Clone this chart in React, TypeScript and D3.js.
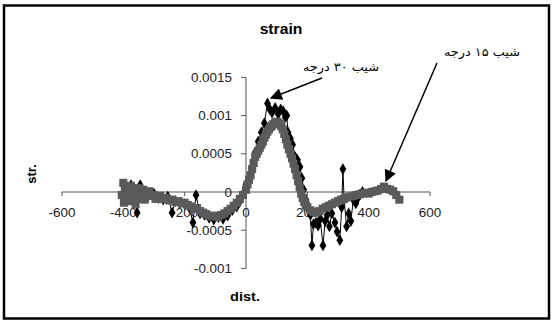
import React from "react";
import * as d3 from "d3";

// Series 1 (gray squares)
const grayDist = [-405,-400,-398,-395,-390,-385,-380,-375,-372,-365,-360,-358,-350,-345,-342,-335,-330,-328,-320,-315,-310,-300,-295,-290,-280,-270,-260,-250,-240,-230,-220,-210,-200,-190,-180,-170,-160,-150,-140,-130,-120,-110,-100,-90,-80,-70,-60,-50,-40,-30,-20,-10,0,5,10,15,20,25,30,35,40,45,50,55,60,65,70,75,80,85,90,95,100,105,110,115,120,125,130,135,140,145,150,155,160,165,170,175,180,185,190,195,200,210,220,230,240,250,260,270,280,290,300,310,320,330,340,350,360,370,380,390,400,410,420,430,440,450,460,470,480,490,500];
const grayVal = [-0.00004,0.00012,-0.00014,0.00002,-0.00010,0.00006,-0.00006,0.00008,-0.00012,0.00002,-0.00016,-0.00004,0.00005,-0.00009,-0.00001,0.00003,-0.00010,-0.00002,-0.00004,0.00001,-0.00005,-0.00004,-0.00009,-0.00006,-0.00005,-0.00009,-0.00008,-0.00011,-0.00010,-0.00013,-0.00012,-0.00015,-0.00014,-0.00017,-0.00019,-0.00022,-0.00021,-0.00025,-0.00027,-0.00029,-0.00031,-0.00032,-0.00031,-0.00033,-0.00030,-0.00028,-0.00025,-0.00022,-0.00018,-0.00014,-0.00009,-0.00004,0.00003,0.00010,0.00016,0.00022,0.00030,0.00038,0.00046,0.00050,0.00054,0.00058,0.00062,0.00066,0.00071,0.00075,0.00079,0.00082,0.00085,0.00087,0.00089,0.00091,0.00092,0.00091,0.00089,0.00086,0.00082,0.00076,0.00069,0.00062,0.00056,0.00050,0.00044,0.00037,0.00030,0.00022,0.00014,0.00006,-0.00002,-0.00008,-0.00013,-0.00017,-0.00020,-0.00024,-0.00026,-0.00027,-0.00025,-0.00022,-0.00020,-0.00018,-0.00016,-0.00014,-0.00012,-0.00010,-0.00009,-0.00007,-0.00006,-0.00005,-0.00004,-0.00003,-0.00002,-0.00001,-0.00002,0.00000,0.00001,0.00002,0.00004,0.00007,0.00004,0.00003,0.00001,-0.00004,-0.00010];

// Series 2 (black diamonds)
const blackDist = [-400,-390,-375,-365,-355,-345,-335,-320,-300,-285,-270,-255,-241,-230,-215,-200,-185,-173,-163,-150,-135,-120,-105,-90,-75,-60,-45,-30,-20,-10,0,10,20,30,40,50,60,70,78,85,95,105,113,121,128,133,137,145,152,160,168,176,182,188,195,200,210,215,220,228,235,242,251,258,265,272,280,290,297,306,312,316,320,328,335,342,350,358,365,372,380];
const blackVal = [-0.00005,0.00002,0.00009,-0.00008,-0.00027,0.00009,-0.00004,-0.00006,-0.00002,-0.00008,-0.00010,-0.00006,-0.00027,-0.00012,-0.00014,-0.00016,-0.00020,-0.00040,-0.00004,-0.00028,-0.00030,-0.00034,-0.00036,-0.00033,-0.00035,-0.00031,-0.00024,-0.00019,-0.00012,-0.00003,0.00010,0.00016,0.00030,0.00052,0.00066,0.00078,0.00090,0.00116,0.00108,0.00104,0.00110,0.00102,0.00108,0.00106,0.00098,0.00100,0.00078,0.00070,0.00062,0.00046,0.00042,0.00033,0.00018,0.00003,-0.00010,-0.00020,-0.00030,-0.00070,-0.00042,-0.00040,-0.00044,-0.00035,-0.00070,-0.00038,-0.00030,-0.00045,-0.00028,-0.00040,-0.00052,-0.00063,-0.00020,0.00030,-0.00010,-0.00045,-0.00028,-0.00038,-0.00010,-0.00015,-0.00008,-0.00003,0.00000];

const xTicks = [-600,-400,-200,0,200,400,600];
const yTicks = [-0.001,-0.0005,0,0.0005,0.001,0.0015];
const yTickLabels = ["-0.001","-0.0005","0","0.0005","0.001","0.0015"];

const title = "strain";
const xTitle = "dist.";
const yTitle = "str.";
const note30 = "شیب ۳۰ درجه";
const note15 = "شیب ۱۵ درجه";

const SX = 1.12;

export default function App() {
  const x = d3.scaleLinear().domain([-600, 600]).range([62, 430]);
  const y = d3.scaleLinear().domain([-0.001, 0.0015]).range([268.4, 77.4]);
  const x0 = x(0);
  const y0 = y(0);
  const font = "'Liberation Sans', Arial, sans-serif";
  const arFont = "'DejaVu Sans', sans-serif";

  const gray = grayDist.map((d, i) => [d, grayVal[i]] as [number, number]);
  const black = blackDist.map((d, i) => [d, blackVal[i]] as [number, number]);
  const line = d3.line<[number, number]>().x((d) => x(d[0])).y((d) => y(d[1]));
  const sq = d3.symbol().type(d3.symbolSquare).size(66)()!;
  const dm = d3.symbol().type(d3.symbolDiamond).size(40)()!;

  const T = (tx: number, ty: number, extra = "") => `translate(${tx},${ty}) scale(${SX},1)${extra}`;

  return (
    <svg width={553} height={322} style={{ position: "absolute", left: 0, top: 0, background: "#fff" }}>
      <defs>
        <marker id="ah" viewBox="0 0 10 10" refX="9" refY="5" markerWidth="15" markerHeight="12" orient="auto" markerUnits="userSpaceOnUse">
          <path d="M0,0 L10,5 L0,10 z" fill="#000" />
        </marker>
      </defs>
      <rect x={0} y={0} width={553} height={322} fill="#fff" />
      <rect x={4} y={5.5} width={545} height={313} fill="none" stroke="#000" strokeWidth={2.5} />

      {/* axes */}
      <line x1={x(-600)} x2={x(600)} y1={y0} y2={y0} stroke="#555" strokeWidth={1} />
      <line x1={x0} x2={x0} y1={y(0.0015)} y2={y(-0.001)} stroke="#555" strokeWidth={1} />
      {xTicks.map((t) => (
        <g key={"xt" + t}>
          <line x1={x(t)} x2={x(t)} y1={y0} y2={y0 + 4} stroke="#555" />
          <text transform={T(x(t), 217)} textAnchor="middle" fontFamily={font} fontSize={12} fill="#222">{t}</text>
        </g>
      ))}
      {yTicks.map((t, i) => (
        <g key={"yt" + i}>
          <line x1={x0 - 5} x2={x0} y1={y(t)} y2={y(t)} stroke="#555" />
          <text transform={T(232, y(t) + 4.5)} textAnchor="end" fontFamily={font} fontSize={12} fill="#222">{yTickLabels[i]}</text>
        </g>
      ))}

      {/* black series */}
      <path d={line(black)!} fill="none" stroke="#000" strokeWidth={1} />
      {black.map((p, i) => (
        <path key={"b" + i} d={dm} transform={`translate(${x(p[0])},${y(p[1])})`} fill="#000" />
      ))}

      {/* gray series */}
      <path d={line(gray)!} fill="none" stroke="#5a5a5a" strokeWidth={1} />
      {gray.map((p, i) => (
        <path key={"g" + i} d={sq} transform={`translate(${x(p[0])},${y(p[1])})`} fill="#5a5a5a" />
      ))}

      {/* titles */}
      <text transform={T(281, 34)} textAnchor="middle" fontFamily={font} fontSize={14} fontWeight="bold" fill="#000">{title}</text>
      <text transform={T(245, 301)} textAnchor="middle" fontFamily={font} fontSize={13} fontWeight="bold" fill="#000">{xTitle}</text>
      <text transform="translate(36,174) rotate(-90)" textAnchor="middle" fontFamily={font} fontSize={13} fontWeight="bold" fill="#000">{yTitle}</text>

      {/* annotations */}
      <text transform={T(341, 71)} textAnchor="middle" fontFamily={arFont} fontSize={11.5} fill="#000">{note30}</text>
      <line x1={322} y1={78} x2={271} y2={98} stroke="#000" strokeWidth={1.5} markerEnd="url(#ah)" />
      <text transform={T(482, 56)} textAnchor="middle" fontFamily={arFont} fontSize={11.5} fill="#000">{note15}</text>
      <line x1={437} y1={63} x2={386} y2={181} stroke="#000" strokeWidth={1.5} markerEnd="url(#ah)" />
    </svg>
  );
}
